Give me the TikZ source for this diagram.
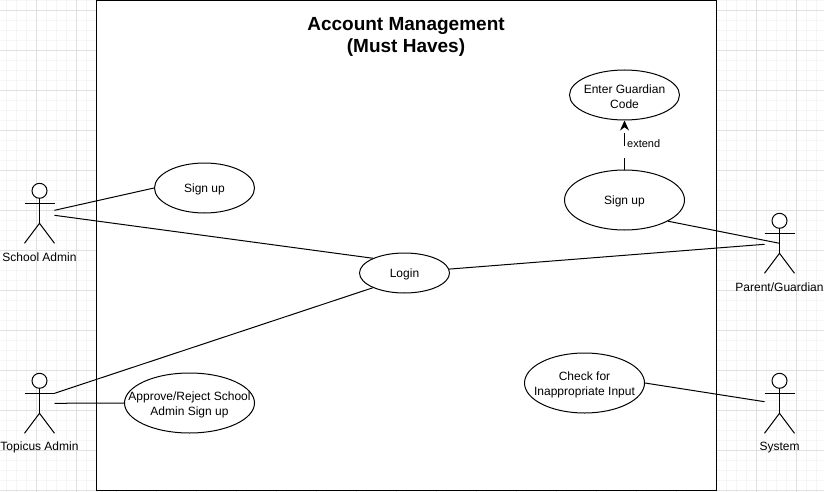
\documentclass[tikz,border=0pt]{standalone}
\usepackage{fontspec}
\setmainfont{Liberation Sans}
\usetikzlibrary{%
    arrows.meta,
    positioning,
    shapes.geometric
}
\tikzset{
    headarrow/.style = {-{Stealth[length=10pt,width=9pt]}},
    gridminor/.style = {draw=black!4, line width=1pt},
    gridmajor/.style = {draw=black!12, line width=1pt},
    usecase/.style = {ellipse, draw, fill=white, line width=1pt, inner sep=0pt},
    casetext/.style = {align=center, font=\fontsize{12}{15}\selectfont, yshift=-1.5pt},
    actorpart/.style = {draw, line width=1pt},
    actorhead/.style = {circle, draw, fill=white, line width=1pt, inner sep=0pt, minimum size=15pt},
    actorlabel/.style = {font=\fontsize{12}{15}\selectfont, inner sep=0pt}
}

\begin{document}
\begin{tikzpicture}[x=1pt,y=-1pt]
    \useasboundingbox (0,0) rectangle (824,492);
    \fill[white] (0,0) rectangle (824,492);

    % grid
    \foreach \x in {6.5,16.5,...,816.5}
    \draw[gridminor] (\x,0) -- (\x,492);
    \foreach \y in {0.5,10.5,...,490.5}
    \draw[gridminor] (0,\y) -- (824,\y);
    \foreach \x in {36.5,76.5,...,796.5}
    \draw[gridmajor] (\x,0) -- (\x,492);
    \foreach \y in {10.5,50.5,...,490.5}
    \draw[gridmajor] (0,\y) -- (824,\y);

    \draw[fill=white, line width=1pt] (96.5,0.5) rectangle (716.5,490);
    \node[align=center, font=\fontsize{19}{22}\selectfont\bfseries] (title) at (406,36.5) {Account Management\\(Must Haves)};

    % use cases
    \node[usecase, minimum width=100pt, minimum height=50pt, label={[casetext]center:Sign up}] (adminsignup) at (204.5,188) {};
    \node[usecase, minimum width=90pt, minimum height=40pt, label={[casetext]center:Login}] (login) at (404.5,273) {};
    \node[usecase, minimum width=130pt, minimum height=60pt, label={[casetext]center:Approve/Reject School\\Admin Sign up}] (approve) at (189.5,403) {};
    \node[usecase, minimum width=110pt, minimum height=50pt, label={[casetext]center:Enter Guardian\\Code}] (code) at (624.5,95) {};
    \node[usecase, minimum width=120pt, minimum height=60pt, label={[casetext]center:Sign up}] (parentsignup) at (624.5,200) {};
    \node[usecase, minimum width=120pt, minimum height=60pt, label={[casetext]center:Check for\\Inappropriate Input}] (check) at (584.5,383) {};

    % actors
    \foreach \Name/\x/\y/\Label in {%
        school/39.5/183.3/School Admin,
        topicus/39.5/373.3/Topicus Admin,
        parent/779.5/213.3/{Parent/Guardian},
        system/779.5/373.3/System%
        }
    {
        \begin{scope}[shift={(\x,\y)}]
            \node[actorhead] (\Name-head) at (0,7.5) {};
            \coordinate (\Name-hip) at (0,40);
            \coordinate (\Name-lefthand) at (-15,20);
            \coordinate (\Name-righthand) at (15,20);
            \coordinate (\Name-leftfoot) at (-15,60);
            \coordinate (\Name-rightfoot) at (15,60);
            \draw[actorpart] (\Name-head) -- (\Name-hip);
            \draw[actorpart] (\Name-lefthand) -- (\Name-righthand);
            \draw[actorpart] (\Name-leftfoot) -- (\Name-hip) -- (\Name-rightfoot);
            \node[actorlabel] (\Name-label) at (0,74) {\Label};
        \end{scope}
    }

    % free ends beside the actors
    \coordinate (schoolend1) at (54.5,210.3);
    \coordinate (schoolend2) at (54.5,215.3);
    \coordinate (topicusend) at (54.5,403.3);
    \coordinate (parentend1) at (779.5,243.3);
    \coordinate (parentend2) at (764.5,244.3);
    \coordinate (systemend) at (764.5,401.7);

    \draw[line width=1pt] (schoolend1) -- (adminsignup.west);
    \draw[line width=1pt] (schoolend2) -- (login.155);
    \draw[line width=1pt] (topicus-righthand) -- (login.205);
    \draw[line width=1pt] (topicusend) -- (approve.west);
    \draw[line width=1pt] (parentsignup.334) -- (parentend1);
    \draw[line width=1pt] (login.5) -- (parentend2);
    \draw[line width=1pt] (check.east) -- (systemend);

    \draw[headarrow, line width=1pt, dash pattern=on 12pt off 12pt] (parentsignup.north) to (code.south);
    \node[font=\fontsize{11}{13}\selectfont, inner sep=0pt, anchor=west] (extendlabel) at (627,144) {extend};
\end{tikzpicture}
\end{document}
